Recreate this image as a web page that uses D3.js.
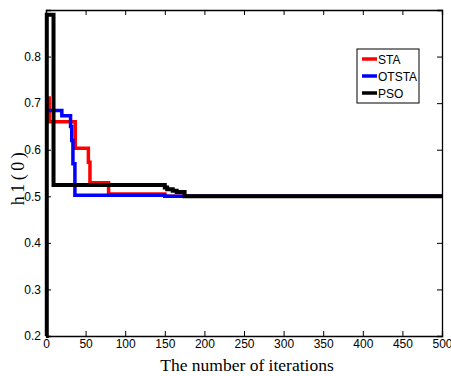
<!DOCTYPE html>
<head>
    <script src="https://d3js.org/d3.v7.min.js"></script>
    <style>
        body { margin: 0; background: #fff; }
    </style>
</head>
<body>
    <svg></svg>
</body>

<script>
    // step data (iteration, h1(0))
    var staIter = [0, 4, 37, 53.5, 55.5, 79, 150, 500];
    var staVal = [0.711, 0.66, 0.603, 0.573, 0.529, 0.505, 0.5, 0.5];

    var otstaIter = [0, 20, 31, 32.5, 34, 36.5, 150, 500];
    var otstaVal = [0.684, 0.673, 0.65, 0.62, 0.57, 0.502, 0.5, 0.5];

    var psoIter = [0, 1, 9.5, 150, 153, 160, 165, 175, 500];
    var psoVal = [0.2, 0.89, 0.524, 0.519, 0.515, 0.512, 0.509, 0.5, 0.5];

    var xTicks = [0, 50, 100, 150, 200, 250, 300, 350, 400, 450, 500];
    var yTicks = [0.2, 0.3, 0.4, 0.5, 0.6, 0.7, 0.8];
    var seriesNames = ['STA', 'OTSTA', 'PSO'];
    var seriesColors = ['#ff0000', '#0000ff', '#000000'];

    // Variables
    var width = 451, height = 376;
    var pLeft = 46, pRight = 442, pTop = 10, pBottom = 336;

    var svg = d3.select('svg')
        .attr('width', width)
        .attr('height', height);

    var x = d3.scaleLinear().domain([0, 500]).range([pLeft, pRight]);
    var y = d3.scaleLinear().domain([0.2, 0.9]).range([pBottom, pTop]);

    // axes: ticks point inward, box on all sides
    var tickFont = 'Liberation Sans, Arial, sans-serif';
    svg.append('g')
        .attr('transform', 'translate(0,' + pBottom + ')')
        .call(d3.axisBottom(x).tickValues(xTicks).tickSize(-5).tickPadding(3).tickFormat(d3.format('d')));
    svg.append('g')
        .attr('transform', 'translate(0,' + pTop + ')')
        .call(d3.axisTop(x).tickValues(xTicks).tickSize(-5).tickFormat(''));
    svg.append('g')
        .attr('transform', 'translate(' + pLeft + ',0)')
        .call(d3.axisLeft(y).tickValues(yTicks).tickSize(-5).tickPadding(5).tickFormat(d3.format('.1f')));
    svg.append('g')
        .attr('transform', 'translate(' + pRight + ',0)')
        .call(d3.axisRight(y).tickValues(yTicks).tickSize(-5).tickFormat(''));

    svg.selectAll('.domain').attr('stroke', '#000').attr('stroke-width', 1.3);
    svg.selectAll('.tick line').attr('stroke', '#000');
    svg.selectAll('.tick text')
        .attr('fill', '#000')
        .style('font-family', tickFont)
        .style('font-size', '12px');

    // series
    var series = [
        { name: seriesNames[0], color: seriesColors[0], iter: staIter, val: staVal, w: 3.5 },
        { name: seriesNames[1], color: seriesColors[1], iter: otstaIter, val: otstaVal, w: 3.5 },
        { name: seriesNames[2], color: seriesColors[2], iter: psoIter, val: psoVal, w: 4 }
    ];

    var line = d3.line()
        .x(function (d) { return x(d[0]); })
        .y(function (d) { return y(d[1]); })
        .curve(d3.curveStepAfter);

    series.forEach(function (s) {
        var pts = s.iter.map(function (v, i) { return [v, s.val[i]]; });
        svg.append('path')
            .datum(pts)
            .attr('d', line)
            .attr('fill', 'none')
            .attr('stroke', s.color)
            .attr('stroke-width', s.w);
    });

    // legend
    var lg = svg.append('g').attr('transform', 'translate(357,49)');
    lg.append('rect')
        .attr('width', 62).attr('height', 54)
        .attr('fill', '#fff').attr('stroke', '#000').attr('stroke-width', 1);
    series.forEach(function (s, i) {
        var yy = 10 + i * 17;
        lg.append('line')
            .attr('x1', 5).attr('x2', 20).attr('y1', yy).attr('y2', yy)
            .attr('stroke', s.color).attr('stroke-width', 3.5);
        lg.append('text')
            .attr('x', 21).attr('y', yy + 4.5)
            .style('font-family', tickFont).style('font-size', '12px')
            .text(s.name);
    });

    // axis titles
    svg.append('text')
        .attr('x', 247).attr('y', 371)
        .attr('text-anchor', 'middle')
        .style('font-family', 'Liberation Serif, Times New Roman, serif')
        .style('font-size', '17.5px')
        .text('The number of iterations');
    svg.append('text')
        .attr('transform', 'translate(24,177) rotate(-90)')
        .attr('text-anchor', 'middle')
        .style('font-family', 'Liberation Serif, Times New Roman, serif')
        .style('font-size', '18px')
        .style('letter-spacing', '3.5px')
        .text('h1(0)');
</script>
